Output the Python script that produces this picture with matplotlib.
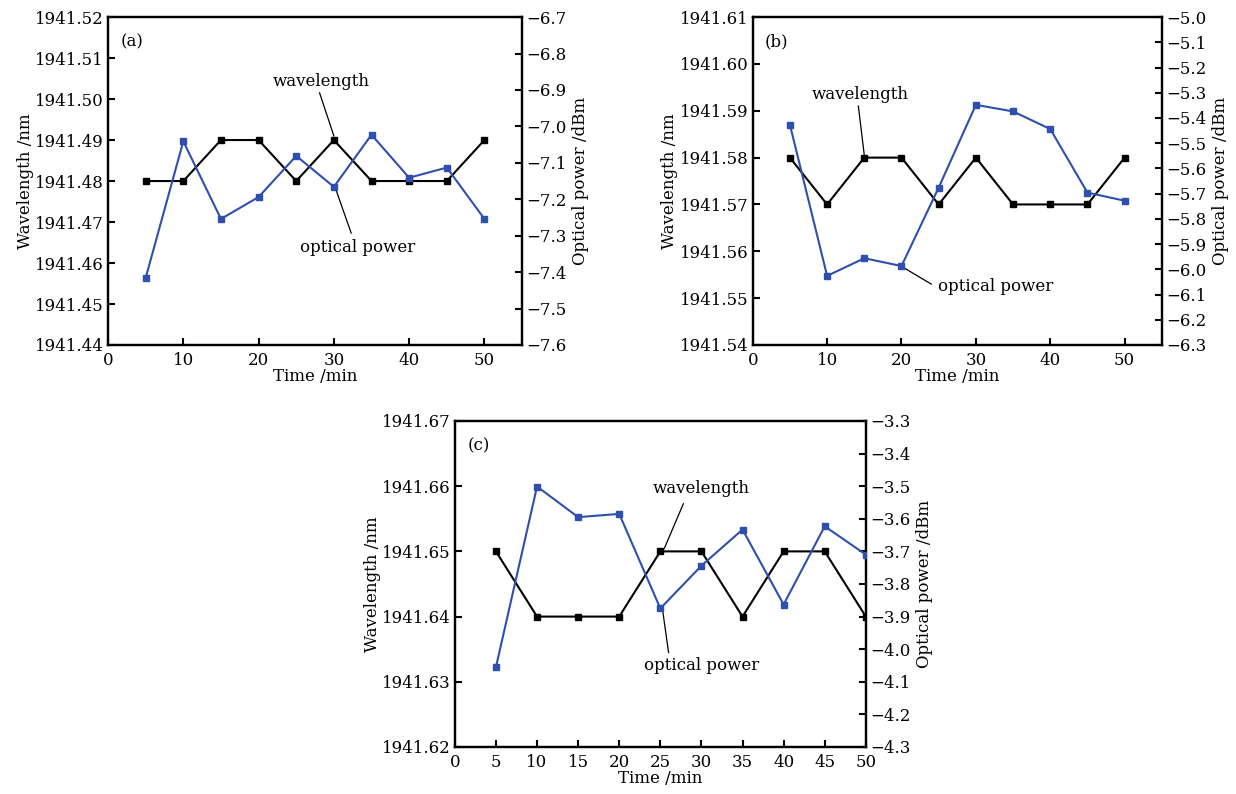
import numpy as np
import matplotlib.pyplot as plt

plt.rcParams['font.family'] = ['DejaVu Serif']
plt.rcParams['font.size'] = 12

time_min = [5, 10, 15, 20, 25, 30, 35, 40, 45, 50]

# (a)
wl_a = [1941.48, 1941.48, 1941.49, 1941.49, 1941.48, 1941.49, 1941.48, 1941.48, 1941.48, 1941.49]
pw_a = [-7.416, -7.041, -7.254, -7.194, -7.081, -7.166, -7.023, -7.141, -7.113, -7.254]

# (b)
wl_b = [1941.58, 1941.57, 1941.58, 1941.58, 1941.57, 1941.58, 1941.57, 1941.57, 1941.57, 1941.58]
pw_b = [-5.427, -6.026, -5.956, -5.987, -5.676, -5.348, -5.374, -5.444, -5.696, -5.728]

# (c)
wl_c = [1941.65, 1941.64, 1941.64, 1941.64, 1941.65, 1941.65, 1941.64, 1941.65, 1941.65, 1941.64]
pw_c = [-4.055, -3.501, -3.595, -3.585, -3.875, -3.744, -3.633, -3.863, -3.623, -3.710]

BLUE = '#2f4fae'

panels = [
    dict(pos=[0.0874, 0.5655, 0.335, 0.413], tag='(a)', wl=wl_a, pw=pw_a,
         xmax=55, xticks=[0, 10, 20, 30, 40, 50],
         wlim=(1941.44, 1941.52), plim=(-7.6, -6.7),
         wl_text=(28.3, 1941.5044), wl_line=((28.1, 1941.5015), (30.0, 1941.4910)),
         pw_text=(33.2, 1941.4639), pw_line=((30.1, 1941.4788), (32.3, 1941.4673))),
    dict(pos=[0.609, 0.5655, 0.331, 0.413], tag='(b)', wl=wl_b, pw=pw_b,
         xmax=55, xticks=[0, 10, 20, 30, 40, 50],
         wlim=(1941.54, 1941.61), plim=(-6.3, -5.0),
         wl_text=(14.5, 1941.5935), wl_line=((14.2, 1941.5910), (15.0, 1941.5805)),
         pw_text=(32.6, 1941.5524), pw_line=((20.3, 1941.5565), (24.0, 1941.5530))),
    dict(pos=[0.368, 0.0592, 0.3325, 0.4106], tag='(c)', wl=wl_c, pw=pw_c,
         xmax=50, xticks=list(range(0, 55, 5)),
         wlim=(1941.62, 1941.67), plim=(-4.3, -3.3),
         wl_text=(30.0, 1941.6597), wl_line=((27.8, 1941.6573), (25.5, 1941.6505)),
         pw_text=(30.0, 1941.6325), pw_line=((25.3, 1941.6408), (26.0, 1941.6345))),
]

fig = plt.figure(figsize=(12.36, 7.94), dpi=100)

for p in panels:
    ax = fig.add_axes(p['pos'])
    ax2 = ax.twinx()
    ax.plot(time_min, p['wl'], color='black', lw=1.5, marker='s', ms=5, zorder=3)
    ax2.plot(time_min, p['pw'], color=BLUE, lw=1.5, marker='s', ms=5, zorder=3)
    ax.set_xlim(0, p['xmax'])
    ax.set_ylim(*p['wlim'])
    ax2.set_ylim(*p['plim'])
    ax.set_xticks(p['xticks'])
    ax.set_yticks(np.arange(p['wlim'][0], p['wlim'][1] + 0.001, 0.01))
    ax.yaxis.set_major_formatter(plt.FormatStrFormatter('%.2f'))
    ax2.set_yticks(np.arange(p['plim'][0], p['plim'][1] + 0.05, 0.1))
    ax2.yaxis.set_major_formatter(plt.FuncFormatter(lambda v, _: f'{v:.1f}'.replace('-', '\u2212')))
    for a in (ax, ax2):
        a.tick_params(direction='in', length=5, width=1.5)
        a.tick_params(axis='y', pad=3)
        for s in a.spines.values():
            s.set_linewidth(1.6)
    ax.tick_params(axis='x', pad=5)
    ax.set_xlabel('Time /min', labelpad=-1)
    ax.set_ylabel('Wavelength /nm', labelpad=1)
    ax2.set_ylabel('Optical power /dBm', labelpad=4)
    ax.text(0.03, 0.95, p['tag'], transform=ax.transAxes, ha='left', va='top')
    # labels with leader lines
    ax.text(*p['wl_text'], 'wavelength', ha='center', va='center')
    (x0, y0), (x1, y1) = p['wl_line']
    ax.plot([x0, x1], [y0, y1], color='black', lw=0.9, zorder=4)
    ax.text(*p['pw_text'], 'optical power', ha='center', va='center')
    (x0, y0), (x1, y1) = p['pw_line']
    ax.plot([x0, x1], [y0, y1], color='black', lw=0.9, zorder=4)

fig.savefig('out.png', dpi=100)
